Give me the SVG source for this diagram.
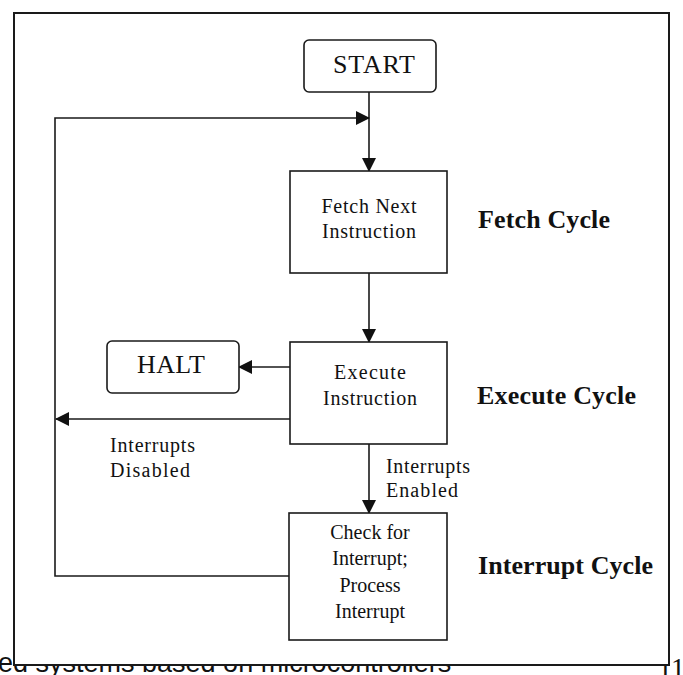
<svg xmlns="http://www.w3.org/2000/svg" width="683" height="675" viewBox="0 0 683 675">
<style>
.bg{fill:#ffffff}
.frame{fill:#ffffff;stroke:#1a1a1a;stroke-width:2}
.box{fill:#ffffff;stroke:#1a1a1a;stroke-width:1.6}
.ln{fill:none;stroke:#1a1a1a;stroke-width:1.6}
.t{font-family:"Liberation Serif","Times New Roman",serif;font-size:20px;fill:#111;text-anchor:middle}
.tl{font-family:"Liberation Serif","Times New Roman",serif;font-size:20px;fill:#111}
.term{font-family:"Liberation Serif","Times New Roman",serif;font-size:26px;fill:#111;text-anchor:middle}
.cyc{font-family:"Liberation Serif","Times New Roman",serif;font-size:26px;font-weight:bold;fill:#111}
.foot{font-family:"Liberation Sans",Arial,sans-serif;font-size:27px;fill:#111}
.num{font-family:"Liberation Serif","Times New Roman",serif;font-size:28px;fill:#111}
</style>
<defs>
<marker id="ah" viewBox="0 0 14 14" refX="13" refY="7" markerWidth="14" markerHeight="14" markerUnits="userSpaceOnUse" orient="auto">
<path d="M0,0 L14,7 L0,14 Z" fill="#111"/>
</marker>
</defs>
<rect class="bg" x="0" y="0" width="683" height="675"/>
<text class="foot" x="-2" y="672">ed systems based on microcontrollers</text>
<text class="num" x="658" y="677">11</text>
<rect class="frame" x="14" y="13" width="655" height="652"/>

<g id="connectors">
<line class="ln" x1="369" y1="92" x2="369" y2="171" marker-end="url(#ah)"/>
<polyline class="ln" points="289,576 55,576 55,118 369,118" marker-end="url(#ah)"/>
<line class="ln" x1="369" y1="273" x2="369" y2="342" marker-end="url(#ah)"/>
<line class="ln" x1="290" y1="367" x2="239" y2="367" marker-end="url(#ah)"/>
<line class="ln" x1="290" y1="419" x2="56" y2="419" marker-end="url(#ah)"/>
<line class="ln" x1="369" y1="444" x2="369" y2="513" marker-end="url(#ah)"/>
<text class="tl" x="110" y="452" textLength="85">Interrupts</text>
<text class="tl" x="110" y="477" textLength="80">Disabled</text>
<text class="tl" x="386" y="473" textLength="84">Interrupts</text>
<text class="tl" x="386" y="497" textLength="72">Enabled</text>
</g>

<g id="start">
<rect class="box" x="304" y="40" width="132" height="52" rx="5"/>
<text class="term" x="374" y="73" textLength="82">START</text>
</g>

<g id="fetch">
<rect class="box" x="290" y="171" width="157" height="102"/>
<text class="t" x="369" y="213" textLength="95">Fetch Next</text>
<text class="t" x="369" y="238" textLength="94">Instruction</text>
</g>

<g id="execute">
<rect class="box" x="290" y="342" width="157" height="102"/>
<text class="t" x="370" y="379" textLength="72">Execute</text>
<text class="t" x="370" y="405" textLength="94">Instruction</text>
</g>

<g id="halt">
<rect class="box" x="107" y="341" width="132" height="52" rx="5"/>
<text class="term" x="171" y="373" textLength="68">HALT</text>
</g>

<g id="check">
<rect class="box" x="289" y="513" width="158" height="127"/>
<text class="t" x="370" y="539">Check for</text>
<text class="t" x="370" y="565">Interrupt;</text>
<text class="t" x="370" y="592">Process</text>
<text class="t" x="370" y="618">Interrupt</text>
</g>

<g id="labels">
<text class="cyc" x="478" y="228" textLength="132">Fetch Cycle</text>
<text class="cyc" x="477" y="404" textLength="159">Execute Cycle</text>
<text class="cyc" x="478" y="574" textLength="175">Interrupt Cycle</text>
</g>
</svg>
